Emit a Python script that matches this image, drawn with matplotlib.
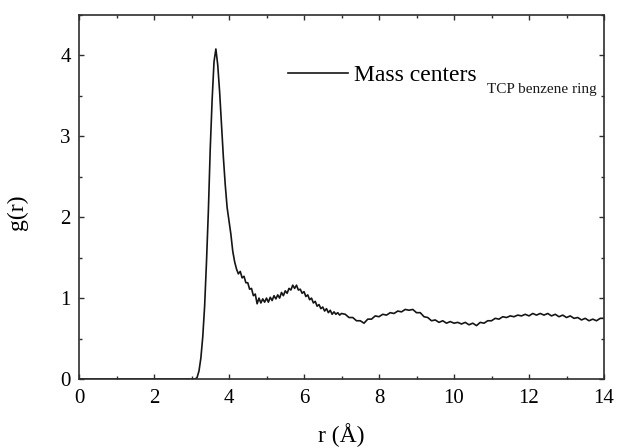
import numpy as np
import matplotlib
matplotlib.use("Agg")
import matplotlib.pyplot as plt
from matplotlib.ticker import MultipleLocator

plt.rcParams['font.family'] = ['Liberation Serif', 'DejaVu Serif']
plt.rcParams['mathtext.fontset'] = 'custom'
plt.rcParams['mathtext.rm'] = 'Liberation Serif'

# sampling grid of r (Å)
r = np.concatenate((
    [0.0],
    np.round(np.arange(3.0, 7.001, 0.05), 2),
    np.round(np.arange(7.1, 14.001, 0.1), 2),
))

g_rise_peak = [0.00, 0.00, 0.00, 0.02, 0.10, 0.26, 0.52, 0.90, 1.45, 2.08,
               2.85, 3.45, 3.92, 4.08, 3.88, 3.55, 3.14, 2.74, 2.40, 2.12,
               1.95, 1.79, 1.58, 1.45]
g_first_shell = [1.36, 1.30, 1.33, 1.25, 1.27, 1.19, 1.19, 1.11, 1.12, 1.03,
                 1.05, 0.93, 1.00, 0.94, 0.99, 0.95, 1.00, 0.95, 1.01, 0.97,
                 1.03, 0.99, 1.04, 1.00, 1.07, 1.03, 1.09, 1.06, 1.12, 1.10,
                 1.16, 1.12, 1.16, 1.10, 1.11, 1.06, 1.08, 1.02, 1.04, 0.98,
                 1.00, 0.94, 0.96, 0.90, 0.92, 0.87, 0.89, 0.84, 0.87, 0.82,
                 0.85, 0.80, 0.83, 0.80, 0.82, 0.79, 0.81]
g_tail = [0.80, 0.76, 0.76, 0.72, 0.72, 0.69, 0.74, 0.74, 0.78, 0.77,
          0.80, 0.79, 0.82, 0.81, 0.84, 0.83, 0.86, 0.85, 0.86, 0.82,
          0.82, 0.77, 0.76, 0.72, 0.73, 0.70, 0.72, 0.69, 0.71, 0.69,
          0.70, 0.68, 0.70, 0.67, 0.69, 0.66, 0.70, 0.69, 0.72, 0.72,
          0.75, 0.74, 0.77, 0.76, 0.78, 0.77, 0.79, 0.78, 0.80, 0.78,
          0.81, 0.79, 0.81, 0.79, 0.81, 0.78, 0.80, 0.77, 0.79, 0.76,
          0.78, 0.75, 0.76, 0.73, 0.75, 0.72, 0.74, 0.72, 0.75, 0.75]

g = np.array([0.0] + g_rise_peak + g_first_shell + g_tail)
assert len(g) == len(r)

series_label = "Mass centers"
series_sub = "TCP benzene ring"
x_label = "r (Å)"
y_label = "g(r)"

fig = plt.figure(figsize=(6.17, 4.48), dpi=100)
ax = fig.add_axes([79/617, 1 - 379/448, 525/617, 364/448])

ax.plot(r, g, color='#151515', lw=1.2, label=series_label)

ax.set_xlim(0, 14)
ax.set_ylim(0, 4.5)
ax.xaxis.set_major_locator(MultipleLocator(2))
ax.xaxis.set_minor_locator(MultipleLocator(1))
ax.yaxis.set_major_locator(MultipleLocator(1))
ax.yaxis.set_minor_locator(MultipleLocator(0.5))

spine_col = '#2e2e2e'
for s in ax.spines.values():
    s.set_linewidth(1.2)
    s.set_color(spine_col)
ax.tick_params(which='both', direction='in', top=True, right=True,
               color=spine_col, width=1.0)
ax.tick_params(which='major', length=3.8)
ax.tick_params(which='minor', length=2.3)
ax.tick_params(axis='x', which='major', labelsize=15, pad=7)
ax.tick_params(axis='y', which='major', labelsize=15, pad=6)

ax.set_xlabel(x_label, fontsize=17)
ax.set_ylabel(y_label, fontsize=17)
ax.xaxis.set_label_coords(0.5, -0.122)
ax.yaxis.set_label_coords(-0.098, 0.459)

leg = ax.legend(loc='center left', bbox_to_anchor=(0.398, 0.835),
                frameon=False, fontsize=17, handlelength=2.55,
                handletextpad=0.25, borderpad=0, borderaxespad=0)
ax.text(0.777, 0.787, series_sub, transform=ax.transAxes,
        fontsize=11, va='baseline', ha='left', color='#1a1a1a')

fig.savefig("out.png", dpi=100)
